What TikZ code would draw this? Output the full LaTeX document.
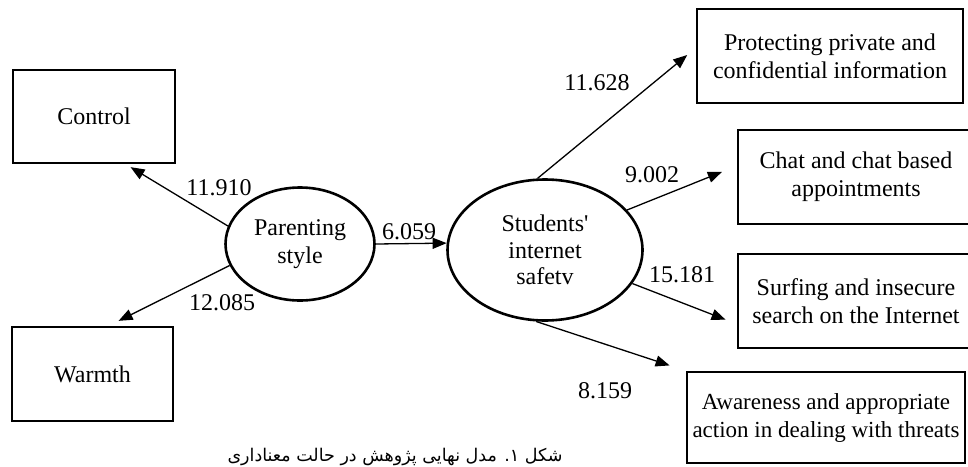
\documentclass[tikz,border=0pt]{standalone}
\usepackage{fontspec}
\setmainfont{Liberation Serif}
\newfontfamily\persianfont[Script=Arabic]{DejaVu Sans}
\TeXXeTstate=1
\usetikzlibrary{shapes.geometric}
\usetikzlibrary{arrows.meta}
\tikzset{every node/.style={font=\fontsize{24}{28}\selectfont},
         latent/.style={draw,ellipse,line width=2.6pt,inner sep=0pt,align=center},
         observed/.style={draw,rectangle,line width=2.5pt,inner sep=0pt,align=center},
         load/.style={-{Triangle[length=14pt,width=11pt]},line width=1.3pt},
         coef/.style={inner sep=0pt},
         }

\begin{document}
\begin{tikzpicture}[x=1pt,y=-1pt]
	\useasboundingbox (0,0) rectangle (968,466);
	% latent variables
	\node[latent,minimum width=149pt,minimum height=113pt] (ps) at (300,244) {Parenting\\style};
	\node[latent,minimum width=195pt,minimum height=141pt,font=\fontsize{24}{26.5}\selectfont] (sis) at (545,250) {Students\textquotesingle\\internet\\safetv};
	% indicators
	\node[observed,minimum width=162pt,minimum height=93pt] (ctrl) at (94,116.5) {Control};
	\node[observed,minimum width=161pt,minimum height=94pt] (warm) at (92.5,374) {Warmth};
	\node[observed,minimum width=266pt,minimum height=94pt] (prot) at (830,56) {Protecting private and\\confidential information};
	\node[observed,minimum width=236pt,minimum height=94pt] (chat) at (856,177) {Chat and chat based\\appointments};
	\node[observed,minimum width=236pt,minimum height=94pt] (surf) at (856,301) {Surfing and insecure\\search on the Internet};
	\node[observed,minimum width=278pt,minimum height=91pt,font=\fontsize{23}{28}\selectfont] (aware) at (826,417.5) {Awareness and appropriate\\action in dealing with threats};
	% paths
	\draw[load,shorten >=5.6pt] (ps.166) -- ([xshift=114pt]ctrl.south west);
	\draw[load,shorten >=11pt] (ps.197) -- ([xshift=98pt]warm.north west);
	\draw[load] (ps.east) -- (sis.176);
	\draw[load,shorten >=11pt] (sis.96) -- ([yshift=8pt]prot.west);
	\draw[load,shorten >=16pt] (sis.26) -- ([yshift=11pt]chat.west);
	\draw[load,shorten >=12pt] (sis.-21) -- ([yshift=-23pt]surf.west);
	\draw[load,shorten >=17pt] (sis.263) -- (aware.north west);
	% coefficients
	\node[coef] (c1) at (219,188) {11.910};
	\node[coef] (c2) at (222,303) {12.085};
	\node[coef] (c3) at (409,232) {6.059};
	\node[coef] (c4) at (597,83) {11.628};
	\node[coef] (c5) at (652,175) {9.002};
	\node[coef] (c6) at (682,275) {15.181};
	\node[coef] (c7) at (605,391) {8.159};
	% caption
	\node[font=\persianfont\fontsize{17.5}{20}\selectfont,anchor=base] (cap) at (395,461) {\beginR شکل ۱. مدل نهایی پژوهش در حالت معناداری\endR};
\end{tikzpicture}
\end{document}
